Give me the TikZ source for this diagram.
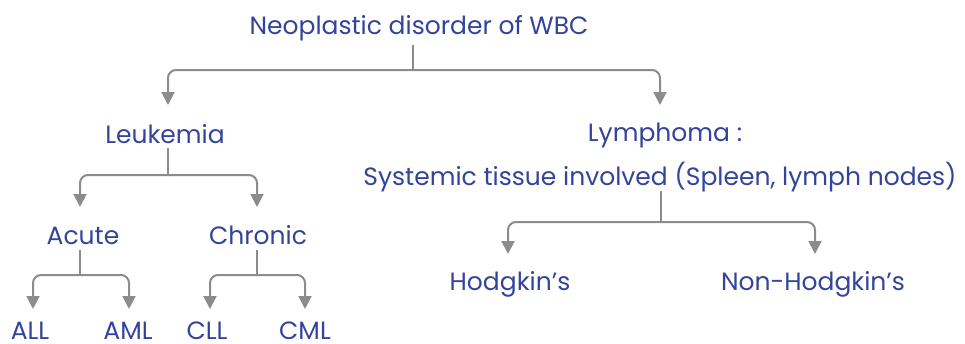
\documentclass[tikz,border=0pt]{standalone}
\usepackage{fontspec}
\setmainfont{Poppins}
\usetikzlibrary{arrows.meta}
\definecolor{ink}{HTML}{34449A}
\definecolor{ln}{HTML}{8C8C8C}
\begin{document}
\begin{tikzpicture}[x=1pt,y=-1pt,
  lbl/.style={text=ink,font=\fontsize{25}{28}\selectfont,inner sep=0pt,anchor=base},
  lnk/.style={draw=ln,line width=2pt},
  arr/.style={draw=ln,line width=2pt,rounded corners=8pt,-{Triangle[length=13pt,width=13pt]}}]
\useasboundingbox (0,0) rectangle (965,343);
\fill[white] (0,0) rectangle (965,343);
% texts (positions are baselines)
\node[lbl] (root) at (419,34) {Neoplastic disorder of WBC};
\node[lbl] (leuk) at (165,143) {Leukemia};
\node[lbl] (lymph) at (665,141) {Lymphoma :};
\node[lbl] (sys) at (660,185) {Systemic tissue involved (Spleen, lymph nodes)};
\node[lbl] (acute) at (83,244) {Acute};
\node[lbl] (chronic) at (258,244) {Chronic};
\node[lbl] (all) at (30,339) {ALL};
\node[lbl] (aml) at (128,339) {AML};
\node[lbl] (cll) at (207,339) {CLL};
\node[lbl] (cml) at (305,339) {CML};
\node[lbl] (hodg) at (510,290) {Hodgkin’s};
\node[lbl] (nhodg) at (813,290) {Non-Hodgkin’s};
% junction points
\coordinate (r0) at (413,45); \coordinate (r1) at (413,70);
\coordinate (ta) at (168,105); \coordinate (tb) at (660,105);
\coordinate (l0) at (168,148); \coordinate (l1) at (168,175);
\coordinate (la) at (80,207); \coordinate (lb) at (257,207);
\coordinate (a0) at (80,250); \coordinate (a1) at (80,275);
\coordinate (aa) at (33,309); \coordinate (ab) at (129,309);
\coordinate (c0) at (257,250); \coordinate (c1) at (257,275);
\coordinate (ca) at (210,309); \coordinate (cb) at (305,309);
\coordinate (s0) at (661,191); \coordinate (s1) at (661,222);
\coordinate (sa) at (508,254); \coordinate (sb) at (815,254);
% connectors
\draw[lnk] (r0) -- (r1);
\draw[arr] (r1) -| (ta);
\draw[arr] (r1) -| (tb);
\draw[lnk] (l0) -- (l1);
\draw[arr] (l1) -| (la);
\draw[arr] (l1) -| (lb);
\draw[lnk] (a0) -- (a1);
\draw[arr] (a1) -| (aa);
\draw[arr] (a1) -| (ab);
\draw[lnk] (c0) -- (c1);
\draw[arr] (c1) -| (ca);
\draw[arr] (c1) -| (cb);
\draw[lnk] (s0) -- (s1);
\draw[arr] (s1) -| (sa);
\draw[arr] (s1) -| (sb);
\end{tikzpicture}
\end{document}
